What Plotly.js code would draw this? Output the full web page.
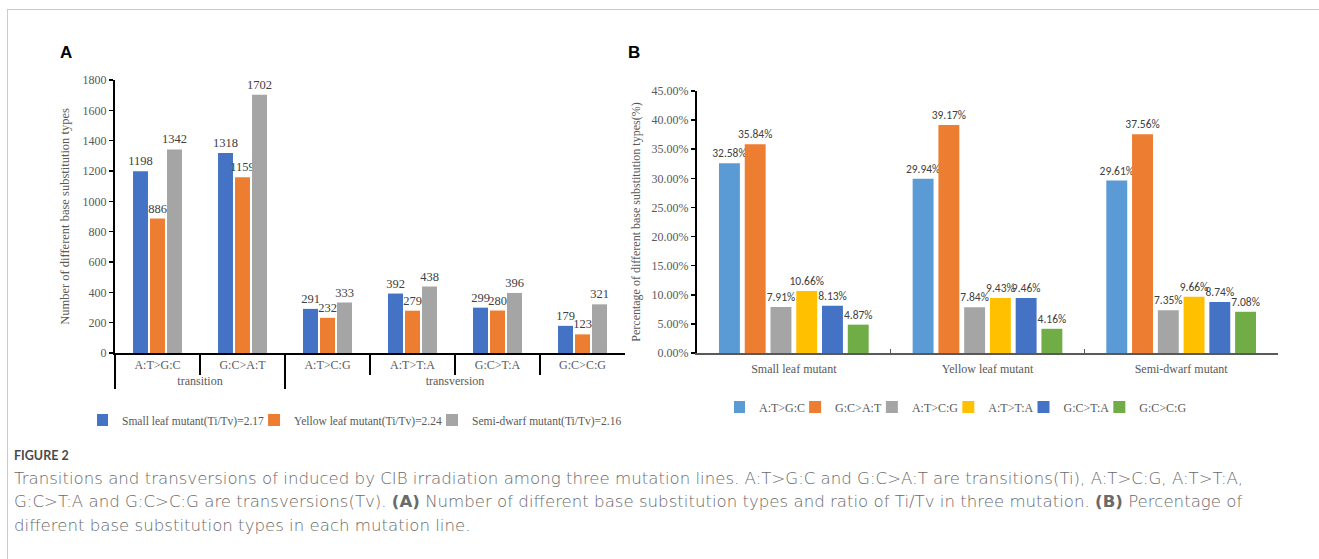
<!DOCTYPE html>
<html><head><meta charset="utf-8">
<script src="https://cdn.plot.ly/plotly-3.0.1.min.js"></script>
<style>html,body{margin:0;padding:0;background:#fff;} #chart{width:1319px;height:559px;}</style>
</head><body><div id="chart"></div>
<script>
// ---- Panel A data ----
const baseTypes = ['A:T>G:C','G:C>A:T','A:T>C:G','A:T>T:A','G:C>T:A','G:C>C:G'];
const substitutionClass = ['transition','transition','transversion','transversion','transversion','transversion'];
const seriesNamesA = ['Small leaf mutant(Ti/Tv)=2.17','Yellow leaf mutant(Ti/Tv)=2.24','Semi-dwarf mutant(Ti/Tv)=2.16'];
const smallLeafCounts = [1198,1318,291,392,299,179];
const yellowLeafCounts = [886,1159,232,279,280,123];
const semiDwarfCounts = [1342,1702,333,438,396,321];

// ---- Panel B data ----
const mutantLines = ['Small leaf mutant','Yellow leaf mutant','Semi-dwarf mutant'];
const pctATtoGC = [32.58,29.94,29.61];
const pctGCtoAT = [35.84,39.17,37.56];
const pctATtoCG = [7.91,7.84,7.35];
const pctATtoTA = [10.66,9.43,9.66];
const pctGCtoTA = [8.13,9.46,8.74];
const pctGCtoCG = [4.87,4.16,7.08];

const W = 1319, H = 559;
const px = x => x / W, py = y => 1 - y / H;
const SERIF = 'Liberation Serif, Times New Roman, serif';
const SANS_LBL = 'Carlito, Lato, sans-serif';
const GREY = '#595959';

const colorsA = ['#4472C4','#ED7D31','#A5A5A5'];
const seriesA = [smallLeafCounts, yellowLeafCounts, semiDwarfCounts];
const traces = [];
seriesA.forEach((vals, i) => {
  traces.push({
    type: 'bar', name: seriesNamesA[i],
    x: [substitutionClass, baseTypes], y: vals,
    marker: {color: colorsA[i]},
    text: vals.map(String), textposition: 'outside', cliponaxis: false, constraintext: 'none',
    textfont: {family: SERIF, size: 12.5, color: '#404040'},
    xaxis: 'x', yaxis: 'y', legend: 'legend'
  });
});

const colorsB = ['#5B9BD5','#ED7D31','#A5A5A5','#FFC000','#4472C4','#70AD47'];
const seriesB = [pctATtoGC, pctGCtoAT, pctATtoCG, pctATtoTA, pctGCtoTA, pctGCtoCG];
const slotB = 0.133, barB = 0.108;
seriesB.forEach((vals, i) => {
  traces.push({
    type: 'bar', name: baseTypes[i],
    x: mutantLines, y: vals,
    width: barB, offset: (i - 3) * slotB + (slotB - barB) / 2,
    marker: {color: colorsB[i]},
    texttemplate: '%{y:.2f}%', textposition: 'outside', cliponaxis: false, constraintext: 'none',
    textfont: {family: SANS_LBL, size: 11.5, color: '#404040'},
    xaxis: 'x2', yaxis: 'y2', legend: 'legend2'
  });
});

const tickFont = {family: SERIF, size: 12, color: GREY};
const capFont = {family: 'DejaVu Sans, sans-serif', size: 16.6, color: '#6a6a6a', weight: 300};

const layout = {
  width: W, height: H,
  margin: {l: 0, r: 0, t: 0, b: 0},
  paper_bgcolor: '#fff', plot_bgcolor: 'rgba(0,0,0,0)',
  barmode: 'group', bargap: 0.4, bargroupgap: 0.12,
  font: {family: SERIF, color: GREY},
  xaxis: {
    type: 'multicategory', domain: [px(115), px(625)], anchor: 'y',
    showline: true, linecolor: '#000', linewidth: 2,
    ticks: 'outside', ticklen: 20, tickwidth: 1.5, tickcolor: '#000', tickson: 'boundaries',
    showdividers: true, dividercolor: '#000', dividerwidth: 2,
    tickfont: tickFont, showgrid: false, zeroline: false
  },
  yaxis: {
    domain: [py(353), py(80)], anchor: 'x', range: [0, 1800], dtick: 200,
    showline: true, linecolor: '#000', linewidth: 2,
    ticks: 'outside', ticklen: 4, tickcolor: '#000', tickwidth: 1.5,
    showgrid: false, zeroline: false, tickfont: tickFont,
    title: {text: 'Number of different base substitution types', font: {family: SERIF, size: 12.5, color: GREY}, standoff: 10}
  },
  xaxis2: {
    domain: [px(697), px(1278)], anchor: 'y2',
    showline: true, linecolor: GREY, linewidth: 2,
    ticks: 'inside', ticklen: 4, tickcolor: GREY, tickwidth: 1.5, tickson: 'boundaries',
    ticklabelstandoff: 4,
    tickfont: tickFont, showgrid: false, zeroline: false
  },
  yaxis2: {
    domain: [py(353), py(91)], anchor: 'x2', range: [0, 45], dtick: 5,
    tickformat: '.2f', ticksuffix: '%',
    showline: true, linecolor: '#000', linewidth: 2,
    ticks: 'outside', ticklen: 4, tickcolor: '#000', tickwidth: 1.5,
    showgrid: false, zeroline: false, tickfont: tickFont,
    title: {text: 'Percentage of different base substitution types(%)', font: {family: SERIF, size: 12, color: GREY}, standoff: 8}
  },
  legend: {
    orientation: 'h', x: px(362), y: py(420), xanchor: 'center', yanchor: 'middle',
    font: {family: SERIF, size: 11.5, color: GREY}, bgcolor: 'rgba(0,0,0,0)',
    indentation: -15, traceorder: 'normal'
  },
  legend2: {
    orientation: 'h', x: px(963), y: py(407), xanchor: 'center', yanchor: 'middle',
    font: {family: SERIF, size: 12, color: GREY}, bgcolor: 'rgba(0,0,0,0)',
    indentation: -15, traceorder: 'normal'
  },
  shapes: [
    {type: 'line', xref: 'paper', yref: 'paper', x0: px(7), x1: 1, y0: py(9.5), y1: py(9.5), line: {color: '#cccccc', width: 1}},
    {type: 'line', xref: 'paper', yref: 'paper', x0: px(7.5), x1: px(7.5), y0: py(9), y1: 0, line: {color: '#cccccc', width: 1}}
  ],
  annotations: [
    {text: '<b>A</b>', xref: 'paper', yref: 'paper', x: px(58), y: py(53), xanchor: 'left', yanchor: 'middle', showarrow: false, font: {family: 'Liberation Sans, Arial, sans-serif', size: 17, color: '#000'}},
    {text: '<b>B</b>', xref: 'paper', yref: 'paper', x: px(626), y: py(53), xanchor: 'left', yanchor: 'middle', showarrow: false, font: {family: 'Liberation Sans, Arial, sans-serif', size: 17, color: '#000'}},
    {text: '<b>FIGURE 2</b>', xref: 'paper', yref: 'paper', x: px(12), y: py(455), xanchor: 'left', yanchor: 'middle', showarrow: false, font: {family: 'Lato, sans-serif', size: 12.5, color: '#4a4a4a'}},
    {text: 'Transitions and transversions of induced by CIB irradiation among three mutation lines. A:T&gt;G:C and G:C&gt;A:T are transitions(Ti), A:T&gt;C:G, A:T&gt;T:A,', xref: 'paper', yref: 'paper', x: px(12), y: py(478), xanchor: 'left', yanchor: 'middle', showarrow: false, font: capFont},
    {text: 'G:C&gt;T:A and G:C&gt;C:G are transversions(Tv). <b>(A)</b> Number of different base substitution types and ratio of Ti/Tv in three mutation. <b>(B)</b> Percentage of', xref: 'paper', yref: 'paper', x: px(12), y: py(501.5), xanchor: 'left', yanchor: 'middle', showarrow: false, font: capFont},
    {text: 'different base substitution types in each mutation line.', xref: 'paper', yref: 'paper', x: px(12), y: py(525), xanchor: 'left', yanchor: 'middle', showarrow: false, font: capFont}
  ]
};

Plotly.newPlot('chart', traces, layout, {staticPlot: true, displayModeBar: false});
</script>
</body></html>
